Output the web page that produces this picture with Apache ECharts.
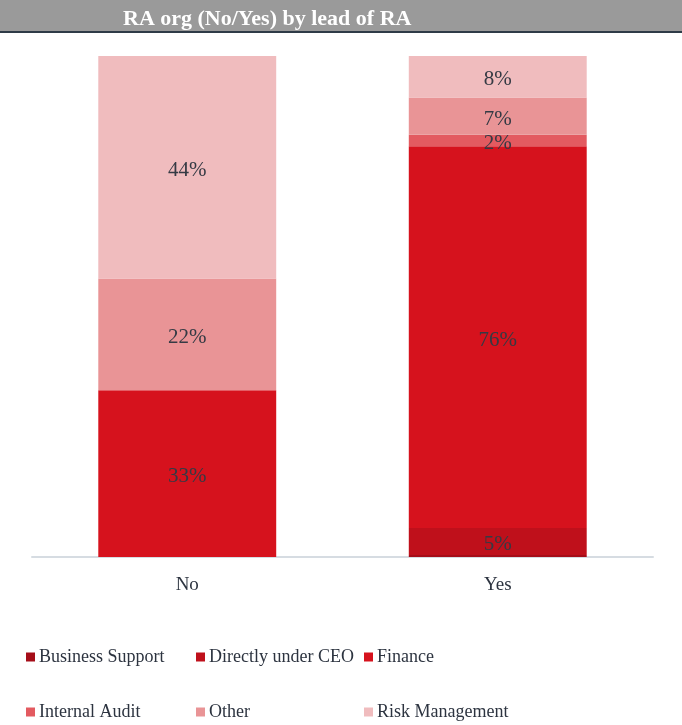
<!DOCTYPE html>
<html>
<head>
<meta charset="utf-8">
<script src="https://cdn.jsdelivr.net/npm/echarts@6/dist/echarts.min.js"></script>
<style>
html,body{margin:0;padding:0;background:#fff;}
#chart{width:682px;height:725px;}
</style>
</head>
<body>
<div id="chart"></div>
<script>
var categories = ['No', 'Yes'];
var seriesNames = ['Business Support', 'Directly under CEO', 'Finance', 'Internal Audit', 'Other', 'Risk Management'];
var businessSupport = [0, 0.4];
var directlyUnderCEO = [0, 5.4];
var finance = [33.3, 76.2];
var internalAudit = [0, 2.3];
var other = [22.3, 7.4];
var riskManagement = [44.4, 8.3];
var titleText = 'RA org (No/Yes) by lead of RA';

var seriesValues = [businessSupport, directlyUnderCEO, finance, internalAudit, other, riskManagement];
var colors = ['#A50D18', '#BF101B', '#D6121D', '#E35A60', '#E99496', '#F0BCBE'];
var FONT = '"Liberation Serif", "DejaVu Serif", serif';

var legendPos = [
  {left: 26, top: 648}, {left: 196, top: 648}, {left: 364, top: 648},
  {left: 26, top: 703}, {left: 196, top: 703}, {left: 364, top: 703}
];

var chart = echarts.init(document.getElementById('chart'), null, {renderer: 'canvas'});
var option = {
  animation: false,
  backgroundColor: '#fff',
  graphic: [
    {type: 'rect', shape: {x: 0, y: 0, width: 682, height: 31}, style: {fill: '#9a9a9a'}, z: 0},
    {type: 'rect', shape: {x: 0, y: 31, width: 682, height: 2}, style: {fill: '#2e3b47'}, z: 0}
  ],
  title: {
    text: titleText,
    left: 118,
    top: 3,
    textStyle: {color: '#fff', fontFamily: FONT, fontWeight: 'bold', fontSize: 22}
  },
  legend: seriesNames.map(function (n, i) {
    return {
      data: [n],
      left: legendPos[i].left,
      top: legendPos[i].top,
      icon: 'rect',
      itemWidth: 9,
      itemHeight: 9,
      itemGap: 0,
      padding: 0,
      selectedMode: false,
      textStyle: {fontFamily: FONT, fontSize: 18, color: '#2d3440', padding: [0, 0, 0, -1]}
    };
  }),
  grid: {left: 32, right: 29, top: 56, bottom: 168},
  xAxis: {
    type: 'category',
    data: categories,
    axisLine: {lineStyle: {color: '#d6dce2', width: 2}},
    axisTick: {show: false},
    axisLabel: {fontFamily: FONT, fontSize: 19, color: '#2d3440', margin: 19}
  },
  yAxis: {
    type: 'value', min: 0, max: 100, show: false,
    splitLine: {show: false}
  },
  series: seriesNames.map(function (n, i) {
    return {
      name: n,
      type: 'bar',
      stack: 'total',
      barWidth: '57.3%',
      data: seriesValues[i],
      itemStyle: {color: colors[i]},
      label: {
        show: true,
        position: 'inside',
        offset: [0, 3],
        fontFamily: FONT,
        fontSize: 21,
        color: '#353a44',
        formatter: function (p) { return p.value >= 1 ? Math.round(p.value) + '%' : ''; }
      }
    };
  })
};
chart.setOption(option);
</script>
</body>
</html>
